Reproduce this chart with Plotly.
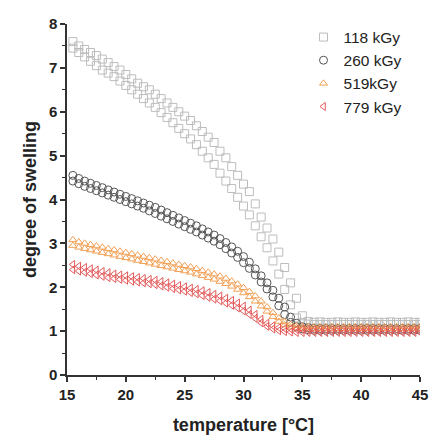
import plotly.graph_objects as go

temperature = [15.5, 16, 16.5, 17, 17.5, 18, 18.5, 19, 19.5, 20,
               20.5, 21, 21.5, 22, 22.5, 23, 23.5, 24, 24.5, 25,
               25.5, 26, 26.5, 27, 27.5, 28, 28.5, 29, 29.5, 30,
               30.5, 31, 31.5, 32, 32.5, 33, 33.5, 34, 34.5, 35,
               35.5, 36, 36.5, 37, 37.5, 38, 38.5, 39, 39.5, 40,
               40.5, 41, 41.5, 42, 42.5, 43, 43.5, 44, 44.5, 45]

x_ticks = [15, 20, 25, 30, 35, 40, 45]
y_ticks = [0, 1, 2, 3, 4, 5, 6, 7, 8]

s118_a = [7.60, 7.50, 7.42, 7.35, 7.28, 7.20, 7.12, 7.03, 6.95, 6.85,
          6.75, 6.65, 6.57, 6.50, 6.40, 6.30, 6.20, 6.10, 6.00, 5.90,
          5.80, 5.68, 5.55, 5.42, 5.30, 5.10, 4.95, 4.75, 4.55, 4.35,
          4.18, 3.90, 3.60, 3.35, 3.10, 2.80, 2.45, 2.10, 1.75, 1.35,
          1.22, 1.20, 1.21, 1.20, 1.20, 1.21, 1.20, 1.20, 1.21, 1.20,
          1.20, 1.21, 1.20, 1.20, 1.21, 1.20, 1.20, 1.21, 1.20, 1.20]
s118_b = [7.45, 7.35, 7.25, 7.15, 7.05, 6.95, 6.88, 6.80, 6.70, 6.60,
          6.50, 6.40, 6.30, 6.20, 6.10, 5.98, 5.87, 5.75, 5.62, 5.50,
          5.38, 5.25, 5.10, 4.95, 4.80, 4.60, 4.42, 4.25, 4.05, 3.85,
          3.65, 3.40, 3.15, 2.90, 2.60, 2.30, 1.95, 1.60, 1.30, 1.20,
          1.16, 1.15, 1.15, 1.15, 1.15, 1.15, 1.15, 1.15, 1.15, 1.15,
          1.15, 1.15, 1.15, 1.15, 1.15, 1.15, 1.15, 1.15, 1.15, 1.15]

s260_a = [4.55, 4.48, 4.42, 4.37, 4.32, 4.27, 4.22, 4.17, 4.12, 4.07,
          4.02, 3.97, 3.92, 3.87, 3.82, 3.76, 3.70, 3.64, 3.58, 3.52,
          3.46, 3.40, 3.33, 3.26, 3.19, 3.11, 3.02, 2.92, 2.82, 2.70,
          2.57, 2.42, 2.26, 2.10, 1.93, 1.75, 1.55, 1.32, 1.18, 1.10,
          1.08, 1.06, 1.06, 1.06, 1.06, 1.06, 1.06, 1.06, 1.06, 1.06,
          1.06, 1.06, 1.06, 1.06, 1.06, 1.06, 1.06, 1.06, 1.06, 1.06]
s260_b = [4.42, 4.36, 4.30, 4.25, 4.20, 4.15, 4.10, 4.05, 4.00, 3.95,
          3.90, 3.85, 3.80, 3.74, 3.68, 3.62, 3.56, 3.50, 3.44, 3.38,
          3.32, 3.26, 3.19, 3.12, 3.05, 2.97, 2.88, 2.78, 2.68, 2.56,
          2.43, 2.28, 2.12, 1.96, 1.78, 1.58, 1.38, 1.20, 1.10, 1.05,
          1.03, 1.02, 1.02, 1.02, 1.02, 1.02, 1.02, 1.02, 1.02, 1.02,
          1.02, 1.02, 1.02, 1.02, 1.02, 1.02, 1.02, 1.02, 1.02, 1.02]

s519_a = [3.08, 3.03, 3.00, 2.97, 2.94, 2.91, 2.88, 2.85, 2.82, 2.79,
          2.76, 2.73, 2.70, 2.67, 2.64, 2.61, 2.58, 2.55, 2.52, 2.49,
          2.46, 2.42, 2.38, 2.34, 2.30, 2.25, 2.20, 2.14, 2.07, 1.99,
          1.90, 1.80, 1.68, 1.55, 1.42, 1.30, 1.21, 1.15, 1.12, 1.11,
          1.10, 1.10, 1.10, 1.10, 1.10, 1.10, 1.10, 1.10, 1.10, 1.10,
          1.10, 1.10, 1.10, 1.10, 1.10, 1.10, 1.10, 1.10, 1.10, 1.10]
s519_b = [2.95, 2.91, 2.88, 2.85, 2.82, 2.79, 2.76, 2.73, 2.70, 2.67,
          2.64, 2.61, 2.58, 2.55, 2.52, 2.49, 2.46, 2.43, 2.40, 2.37,
          2.34, 2.30, 2.26, 2.22, 2.18, 2.13, 2.08, 2.02, 1.95, 1.87,
          1.78, 1.68, 1.57, 1.45, 1.33, 1.22, 1.14, 1.09, 1.07, 1.06,
          1.05, 1.05, 1.05, 1.05, 1.05, 1.05, 1.05, 1.05, 1.05, 1.05,
          1.05, 1.05, 1.05, 1.05, 1.05, 1.05, 1.05, 1.05, 1.05, 1.05]

s779_a = [2.52, 2.48, 2.45, 2.42, 2.39, 2.36, 2.33, 2.30, 2.28, 2.26,
          2.24, 2.22, 2.20, 2.18, 2.16, 2.13, 2.10, 2.07, 2.04, 2.01,
          1.98, 1.95, 1.92, 1.88, 1.84, 1.80, 1.75, 1.70, 1.64, 1.57,
          1.48, 1.38, 1.27, 1.18, 1.12, 1.08, 1.06, 1.05, 1.04, 1.04,
          1.03, 1.03, 1.03, 1.03, 1.03, 1.03, 1.03, 1.03, 1.03, 1.03,
          1.03, 1.03, 1.03, 1.03, 1.03, 1.03, 1.03, 1.03, 1.03, 1.03]
s779_b = [2.40, 2.37, 2.34, 2.31, 2.28, 2.25, 2.22, 2.20, 2.18, 2.16,
          2.14, 2.12, 2.10, 2.08, 2.06, 2.03, 2.00, 1.97, 1.94, 1.91,
          1.88, 1.85, 1.81, 1.77, 1.73, 1.69, 1.64, 1.59, 1.53, 1.46,
          1.38, 1.29, 1.19, 1.11, 1.05, 1.01, 0.99, 0.98, 0.97, 0.97,
          0.97, 0.97, 0.97, 0.97, 0.97, 0.97, 0.97, 0.97, 0.97, 0.97,
          0.97, 0.97, 0.97, 0.97, 0.97, 0.97, 0.97, 0.97, 0.97, 0.97]

series_names = ["118 kGy", "260 kGy", "519kGy", "779 kGy"]
series_runs = [(s118_a, s118_b), (s260_a, s260_b), (s519_a, s519_b), (s779_a, s779_b)]
colors = ["#bdbdbd", "#555555", "#f2a055", "#e45a5a"]
symbols = ["square-open", "circle-open", "triangle-up-open", "triangle-left-open"]
sizes = [8, 8, 7, 7]

fig = go.Figure()
for name, runs, c, sym, sz in zip(series_names, series_runs, colors, symbols, sizes):
    for i, run in enumerate(runs):
        fig.add_trace(go.Scatter(
            x=temperature, y=run, mode="markers", name=name,
            legendgroup=name, showlegend=(i == 0),
            marker=dict(symbol=sym, size=sz, color=c, line=dict(width=1, color=c)),
        ))

axis_common = dict(
    showline=True, linecolor="#333333", linewidth=1.5,
    ticks="outside", ticklen=5, tickwidth=1.5, tickcolor="#333333",
    showgrid=False, zeroline=False, mirror=False, automargin=False,
    tickfont=dict(family="Arial", size=15, color="#222222"),
)
title_font = dict(family="Arial", size=18, color="#222222")

fig.update_xaxes(range=[15, 45], tickmode="array", tickvals=x_ticks,
                 ticktext=["<b>%d</b>" % v for v in x_ticks],
                 minor=dict(dtick=2.5, tick0=15, ticks="outside", ticklen=3, tickcolor="#333333", tickwidth=1),
                 title=dict(text="<b>temperature [°C]</b>", font=title_font, standoff=17),
                 **axis_common)
fig.update_yaxes(range=[0, 8], tickmode="array", tickvals=y_ticks,
                 ticktext=["<b>%d</b>" % v for v in y_ticks],
                 minor=dict(dtick=0.5, tick0=0, ticks="outside", ticklen=3, tickcolor="#333333", tickwidth=1),
                 title=dict(text="<b>degree of swelling</b>", font=title_font, standoff=8),
                 **axis_common)

fig.update_layout(
    width=444, height=435,
    margin=dict(l=59, r=32, t=14, b=68),
    paper_bgcolor="white", plot_bgcolor="white",
    showlegend=True,
    legend=dict(x=0.67, y=1.01, xanchor="left", yanchor="top",
                font=dict(family="Arial", size=15.5, color="#222222"),
                bgcolor="rgba(0,0,0,0)", tracegroupgap=0, itemwidth=30),
)

fig.write_html("out.html")
